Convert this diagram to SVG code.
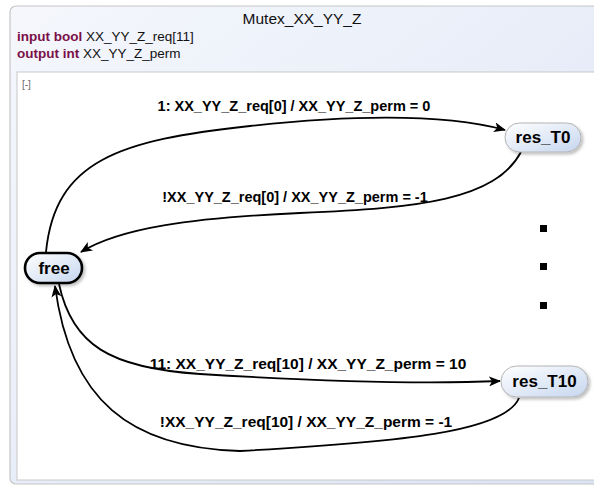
<svg xmlns="http://www.w3.org/2000/svg" width="594" height="486" viewBox="0 0 594 486">
  <defs>
    <linearGradient id="hdr" x1="0" y1="0" x2="1" y2="1">
      <stop offset="0" stop-color="#f5f7fc"/>
      <stop offset="1" stop-color="#dbe4f5"/>
    </linearGradient>
    <linearGradient id="stateFill" x1="0" y1="0" x2="1" y2="1">
      <stop offset="0" stop-color="#ffffff"/>
      <stop offset="1" stop-color="#c6d6ef"/>
    </linearGradient>
    <filter id="shadow" x="-20%" y="-30%" width="150%" height="170%">
      <feDropShadow dx="2" dy="2" stdDeviation="1.5" flood-color="#000" flood-opacity="0.25"/>
    </filter>
    <marker id="arrow" viewBox="0 0 12 10" refX="11" refY="5" markerWidth="12" markerHeight="10" markerUnits="userSpaceOnUse" orient="auto">
      <path d="M0,0 L12,5 L0,10 L3,5 Z" fill="#000"/>
    </marker>
  </defs>
  <style>
    .title { font-family: "Liberation Sans", Arial, sans-serif; font-size: 15.5px; fill: #111; }
    .decl { font-family: "Liberation Sans", Arial, sans-serif; font-size: 13.5px; fill: #111; }
    .kw { font-weight: bold; fill: #7a1048; }
    .toggle { font-family: "Liberation Sans", Arial, sans-serif; font-size: 10px; fill: #666; }
    .label { font-family: "Liberation Sans", Arial, sans-serif; font-size: 14.5px; font-weight: bold; fill: #000; text-anchor: middle; }
    .label.wide { font-size: 15.5px; }
    .sname { font-family: "Liberation Sans", Arial, sans-serif; font-size: 17px; font-weight: bold; fill: #000; text-anchor: middle; }
    .edge { fill: none; stroke: #000; stroke-width: 1.8; marker-end: url(#arrow); }
    .state { fill: url(#stateFill); stroke: #b4b4b4; stroke-width: 1; filter: url(#shadow); }
    .state.active { stroke: #000; stroke-width: 2.6; }
  </style>

  <!-- statechart frame -->
  <rect x="0" y="0" width="594" height="486" fill="#ffffff"/>
  <rect x="10" y="6" width="600" height="478" rx="6" fill="url(#hdr)" stroke="#c6c6c6" stroke-width="1.2"/>
  <rect x="17" y="72" width="600" height="408" fill="#ffffff" stroke="#c8c8c8" stroke-width="1"/>

  <!-- header: name and interface -->
  <text class="title" x="302" y="24" text-anchor="middle">Mutex_XX_YY_Z</text>
  <text class="decl" x="17" y="41"><tspan class="kw">input bool</tspan> XX_YY_Z_req[11]</text>
  <text class="decl" x="17" y="58"><tspan class="kw">output int</tspan> XX_YY_Z_perm</text>
  <text class="toggle" x="22" y="88">[-]</text>

  <!-- transitions -->
  <g id="transitions">
    <path class="edge" d="M46 252 C55 160,120 140,250 126 C380 112,460 118,505 130"/>
    <path class="edge" d="M521 152 C495 200,420 208,300 213 C190 218,120 228,81 252"/>
    <path class="edge" d="M59 284 C72 345,110 368,200 374 C330 382,430 384,500 381"/>
    <path class="edge" d="M519 398 C505 432,400 442,240 451 C130 448,70 400,55 286"/>
    <text class="label" x="294" y="111">1: XX_YY_Z_req[0] / XX_YY_Z_perm = 0</text>
    <text class="label" x="295" y="202">!XX_YY_Z_req[0] / XX_YY_Z_perm = -1</text>
    <text class="label wide" x="308" y="369">11: XX_YY_Z_req[10] / XX_YY_Z_perm = 10</text>
    <text class="label wide" x="306" y="427">!XX_YY_Z_req[10] / XX_YY_Z_perm = -1</text>
  </g>

  <!-- states -->
  <g id="free">
    <rect class="state active" x="25" y="253" width="57" height="30" rx="15"/>
    <text class="sname" x="54" y="274">free</text>
  </g>
  <g id="res_T0">
    <rect class="state" x="505" y="123" width="76" height="29" rx="14.5"/>
    <text class="sname" x="543" y="143">res_T0</text>
  </g>
  <g id="res_T10">
    <rect class="state" x="501" y="366" width="87" height="31" rx="15.5"/>
    <text class="sname" x="544.5" y="387">res_T10</text>
  </g>

  <!-- ellipsis between the reservation states -->
  <g id="ellipsis" fill="#000">
    <rect x="540" y="225" width="7" height="7"/>
    <rect x="540" y="263" width="7" height="7"/>
    <rect x="540" y="302" width="7" height="7"/>
  </g>
</svg>
